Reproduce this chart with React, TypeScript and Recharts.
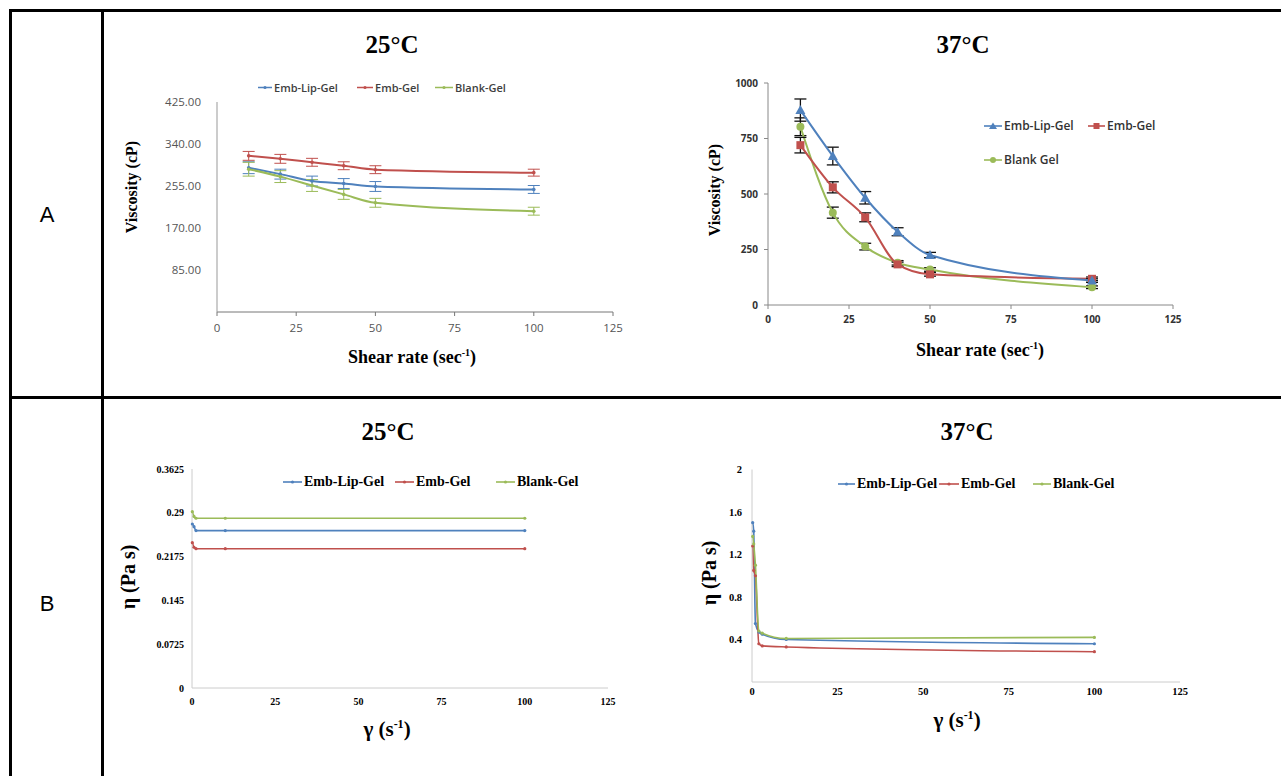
import React from 'react';
import { LineChart, Line, XAxis, YAxis, ErrorBar } from 'recharts';

// ---------- colours ----------
const BLUE = '#4F81BD';
const RED = '#C0504D';
const GREEN = '#9BBB59';

// ---------- Panel A data (shear rate, sec^-1) ----------
const shearRate = [10, 20, 30, 40, 50, 100];
const shearTicks = [0, 25, 50, 75, 100, 125];

// A – 25°C viscosity (cP)
const a25EmbLipGel = [292, 279, 265, 260, 254, 248];
const a25EmbLipGelErr = [12, 10, 10, 10, 10, 8];
const a25EmbGel = [316, 310, 303, 296, 288, 282];
const a25EmbGelErr = [9, 9, 8, 8, 8, 7];
const a25BlankGel = [289, 274, 256, 238, 221, 204];
const a25BlankGelErr = [14, 12, 12, 10, 9, 8];
const a25Ticks = [85, 170, 255, 340, 425];

// A – 37°C viscosity (cP)
const a37EmbLipGel = [878, 671, 483, 330, 225, 110];
const a37EmbLipGelErr = [50, 40, 28, 18, 12, 8];
const a37EmbGel = [720, 530, 395, 183, 138, 118];
const a37EmbGelErr = [35, 25, 20, 10, 8, 8];
const a37BlankGel = [803, 416, 263, 190, 160, 80];
const a37BlankGelErr = [40, 25, 15, 10, 8, 6];
const a37Ticks = [0, 250, 500, 750, 1000];

// ---------- Panel B data (γ, s^-1 ; η, Pa s) ----------
const b25Gamma = [0.1, 0.6, 1.2, 10, 100];
const b25EmbLipGel = [0.2715, 0.267, 0.2605, 0.2605, 0.2605];
const b25EmbGel = [0.2405, 0.233, 0.2306, 0.2306, 0.2306];
const b25BlankGel = [0.2918, 0.284, 0.281, 0.281, 0.281];
const b25Ticks = [0, 0.0725, 0.145, 0.2175, 0.29, 0.3625];

const b37Gamma = [0.2, 0.5, 1, 2, 3, 10, 100];
const b37EmbLipGel = [1.5, 1.42, 0.55, 0.47, 0.45, 0.4, 0.36];
const b37EmbGel = [1.28, 1.05, 1.0, 0.36, 0.34, 0.33, 0.285];
const b37BlankGel = [1.37, 1.3, 1.1, 0.48, 0.46, 0.41, 0.42];
const b37Ticks = [0.4, 0.8, 1.2, 1.6, 2];

// ---------- tables ----------
const a25Data = shearRate.map((x, i) => ({
  x,
  lip: a25EmbLipGel[i], lipErr: a25EmbLipGelErr[i],
  emb: a25EmbGel[i], embErr: a25EmbGelErr[i],
  blank: a25BlankGel[i], blankErr: a25BlankGelErr[i],
}));
const a37Data = shearRate.map((x, i) => ({
  x,
  lip: a37EmbLipGel[i], lipErr: a37EmbLipGelErr[i],
  emb: a37EmbGel[i], embErr: a37EmbGelErr[i],
  blank: a37BlankGel[i], blankErr: a37BlankGelErr[i],
}));
const b25Data = b25Gamma.map((x, i) => ({
  x, lip: b25EmbLipGel[i], emb: b25EmbGel[i], blank: b25BlankGel[i],
}));
const b37Data = b37Gamma.map((x, i) => ({
  x, lip: b37EmbLipGel[i], emb: b37EmbGel[i], blank: b37BlankGel[i],
}));

// ---------- layout helpers ----------
type Box = { x: number; y: number; w: number; h: number };
type Plot = { x0: number; y0: number; x1: number; y1: number };
const YW = 60;
const XH = 30;
function marginsFor(box: Box, plot: Plot) {
  return {
    left: plot.x0 - box.x - YW,
    top: plot.y0 - box.y,
    right: box.x + box.w - plot.x1,
    bottom: box.y + box.h - plot.y1 - XH,
  };
}

const SERIF = '"Liberation Serif", "DejaVu Serif", serif';
const SANS = '"Open Sans", "Noto Sans", sans-serif';

function CenterText(props: { x: number; y: number; size: number; children: React.ReactNode; rotate?: boolean; family?: string; weight?: number | string; color?: string }) {
  const { x, y, size, children, rotate, family, weight, color } = props;
  return (
    <div
      style={{
        position: 'absolute', left: x, top: y, whiteSpace: 'nowrap',
        transform: `translate(-50%, -50%)${rotate ? ' rotate(-90deg)' : ''}`,
        fontFamily: family || SERIF, fontWeight: weight ?? 700, fontSize: size,
        color: color || '#000', lineHeight: 1,
      }}
    >
      {children}
    </div>
  );
}

type LegendItem = { x: number; y: number; label: string; color: string; marker: 'dot' | 'tri' | 'sq' | 'circ'; len: number };
function LegendBlock(props: { items: LegendItem[]; size: number; family: string; weight: number; color: string }) {
  return (
    <>
      {props.items.map((it) => (
        <div key={it.label} style={{ position: 'absolute', left: it.x, top: it.y, transform: 'translateY(-50%)', display: 'flex', alignItems: 'center', whiteSpace: 'nowrap' }}>
          <svg width={it.len} height={10} style={{ display: 'block' }}>
            <line x1={0} y1={5} x2={it.len} y2={5} stroke={it.color} strokeWidth={1.6} />
            {it.marker === 'dot' && <circle cx={it.len / 2} cy={5} r={1.6} fill={it.color} />}
            {it.marker === 'tri' && <polygon points={`${it.len / 2},1.5 ${it.len / 2 + 4},8 ${it.len / 2 - 4},8`} fill={it.color} />}
            {it.marker === 'sq' && <rect x={it.len / 2 - 3} y={2} width={6} height={6} fill={it.color} />}
            {it.marker === 'circ' && <circle cx={it.len / 2} cy={5} r={3} fill={it.color} />}
          </svg>
          <span style={{ fontFamily: props.family, fontWeight: props.weight, fontSize: props.size, color: props.color, marginLeft: 2, lineHeight: 1 }}>{it.label}</span>
        </div>
      ))}
    </>
  );
}

// custom marker shapes
const triDot = (color: string) => (p: any) => (
  <polygon key={`t${p.index}`} points={`${p.cx},${p.cy - 5} ${p.cx + 5},${p.cy + 4} ${p.cx - 5},${p.cy + 4}`} fill={color} />
);
const sqDot = (color: string) => (p: any) => (
  <rect key={`s${p.index}`} x={p.cx - 4} y={p.cy - 4} width={8} height={8} fill={color} />
);
const circDot = (color: string) => (p: any) => (
  <circle key={`c${p.index}`} cx={p.cx} cy={p.cy} r={4} fill={color} />
);
const smallDot = (color: string, r = 1.8) => (p: any) => (
  <circle key={`d${p.index}`} cx={p.cx} cy={p.cy} r={r} fill={color} />
);

// ---------- boxes ----------
const A25Box: Box = { x: 110, y: 60, w: 540, h: 300 };
const A25Plot: Plot = { x0: 217, y0: 102, x1: 613, y1: 312 };
const A37Box: Box = { x: 690, y: 60, w: 520, h: 290 };
const A37Plot: Plot = { x0: 768, y0: 83, x1: 1173, y1: 305 };
const B25Box: Box = { x: 130, y: 440, w: 520, h: 290 };
const B25Plot: Plot = { x0: 192, y0: 469, x1: 608, y1: 688 };
const B37Box: Box = { x: 690, y: 440, w: 530, h: 280 };
const B37Plot: Plot = { x0: 752, y0: 469.5, x1: 1180, y1: 682 };

function ChartA25() {
  const tick = { fontSize: 11.5, fill: '#555', fontFamily: SANS };
  return (
    <div style={{ position: 'absolute', left: A25Box.x, top: A25Box.y }}>
      <LineChart width={A25Box.w} height={A25Box.h} data={a25Data} margin={marginsFor(A25Box, A25Plot)}>
        <XAxis type="number" dataKey="x" domain={[0, 125]} ticks={shearTicks} height={XH}
          stroke="#777" tick={tick} tickSize={4} tickMargin={8} />
        <YAxis type="number" domain={[0, 425]} ticks={a25Ticks} width={YW} stroke="#999"
          tick={tick} tickLine={false} tickSize={6} tickMargin={10}
          tickFormatter={(v: number) => v.toFixed(2)} />
        <Line dataKey="lip" stroke={BLUE} strokeWidth={2} type="monotone" isAnimationActive={false} dot={smallDot(BLUE)}>
          <ErrorBar dataKey="lipErr" width={6} stroke={BLUE} strokeWidth={1} />
        </Line>
        <Line dataKey="emb" stroke={RED} strokeWidth={2} type="monotone" isAnimationActive={false} dot={smallDot(RED)}>
          <ErrorBar dataKey="embErr" width={6} stroke={RED} strokeWidth={1} />
        </Line>
        <Line dataKey="blank" stroke={GREEN} strokeWidth={2} type="monotone" isAnimationActive={false} dot={smallDot(GREEN)}>
          <ErrorBar dataKey="blankErr" width={6} stroke={GREEN} strokeWidth={1} />
        </Line>
      </LineChart>
    </div>
  );
}

function ChartA37() {
  const tick = { fontSize: 10, fill: '#333', fontFamily: SANS, fontWeight: 700 };
  return (
    <div style={{ position: 'absolute', left: A37Box.x, top: A37Box.y }}>
      <LineChart width={A37Box.w} height={A37Box.h} data={a37Data} margin={marginsFor(A37Box, A37Plot)}>
        <XAxis type="number" dataKey="x" domain={[0, 125]} ticks={shearTicks} height={XH}
          stroke="#888" tick={tick} tickSize={4} tickMargin={7} />
        <YAxis type="number" domain={[0, 1000]} ticks={a37Ticks} width={YW} stroke="#888"
          tick={tick} tickSize={4} tickMargin={6} />
        <Line dataKey="blank" stroke={GREEN} strokeWidth={2} type="monotone" isAnimationActive={false} dot={circDot(GREEN)}>
          <ErrorBar dataKey="blankErr" width={6} stroke="#111" strokeWidth={1.3} />
        </Line>
        <Line dataKey="emb" stroke={RED} strokeWidth={2} type="monotone" isAnimationActive={false} dot={sqDot(RED)}>
          <ErrorBar dataKey="embErr" width={6} stroke="#111" strokeWidth={1.3} />
        </Line>
        <Line dataKey="lip" stroke={BLUE} strokeWidth={2} type="monotone" isAnimationActive={false} dot={triDot(BLUE)}>
          <ErrorBar dataKey="lipErr" width={6} stroke="#111" strokeWidth={1.3} />
        </Line>
      </LineChart>
    </div>
  );
}

function ChartB25() {
  const tick = { fontSize: 10, fill: '#000', fontFamily: SERIF, fontWeight: 700 };
  return (
    <div style={{ position: 'absolute', left: B25Box.x, top: B25Box.y }}>
      <LineChart width={B25Box.w} height={B25Box.h} data={b25Data} margin={marginsFor(B25Box, B25Plot)}>
        <XAxis type="number" dataKey="x" domain={[0, 125]} ticks={shearTicks} height={XH}
          stroke="#ccc" tick={tick} tickLine={false} tickSize={4} tickMargin={6} />
        <YAxis type="number" domain={[0, 0.3625]} ticks={b25Ticks} width={YW} stroke="#ccc"
          tick={tick} tickLine={false} tickSize={4} tickMargin={4} />
        <Line dataKey="lip" stroke={BLUE} strokeWidth={1.6} type="monotone" isAnimationActive={false} dot={smallDot(BLUE, 1.6)} />
        <Line dataKey="emb" stroke={RED} strokeWidth={1.6} type="monotone" isAnimationActive={false} dot={smallDot(RED, 1.6)} />
        <Line dataKey="blank" stroke={GREEN} strokeWidth={1.6} type="monotone" isAnimationActive={false} dot={smallDot(GREEN, 1.6)} />
      </LineChart>
    </div>
  );
}

function ChartB37() {
  const tick = { fontSize: 10.5, fill: '#000', fontFamily: SERIF, fontWeight: 700 };
  return (
    <div style={{ position: 'absolute', left: B37Box.x, top: B37Box.y }}>
      <LineChart width={B37Box.w} height={B37Box.h} data={b37Data} margin={marginsFor(B37Box, B37Plot)}>
        <XAxis type="number" dataKey="x" domain={[0, 125]} ticks={shearTicks} height={XH}
          stroke="#ccc" tick={tick} tickLine={false} tickSize={2} tickMargin={4} />
        <YAxis type="number" domain={[0, 2]} ticks={b37Ticks} width={YW} stroke="#ccc"
          tick={tick} tickLine={false} tickSize={4} tickMargin={6} />
        <Line dataKey="lip" stroke={BLUE} strokeWidth={1.6} type="monotone" isAnimationActive={false} dot={smallDot(BLUE, 1.6)} />
        <Line dataKey="emb" stroke={RED} strokeWidth={1.6} type="monotone" isAnimationActive={false} dot={smallDot(RED, 1.6)} />
        <Line dataKey="blank" stroke={GREEN} strokeWidth={1.6} type="monotone" isAnimationActive={false} dot={smallDot(GREEN, 1.6)} />
      </LineChart>
    </div>
  );
}

const lineStyle = (l: number, t: number, w: number, h: number): React.CSSProperties => ({
  position: 'absolute', left: l, top: t, width: w, height: h, background: '#000',
});

export default function App() {
  return (
    <div style={{ position: 'absolute', left: 0, top: 0, width: 1281, height: 776, background: '#fff', overflow: 'hidden' }}>
      {/* table frame */}
      <div style={lineStyle(9, 9, 1272, 3)} />
      <div style={lineStyle(9, 9, 3, 767)} />
      <div style={lineStyle(101, 9, 3, 767)} />
      <div style={lineStyle(9, 396, 1272, 3)} />

      <CenterText x={47} y={215} size={22} family={'"Liberation Sans", Arial, sans-serif'} weight={400}>A</CenterText>
      <CenterText x={47} y={604} size={22} family={'"Liberation Sans", Arial, sans-serif'} weight={400}>B</CenterText>

      {/* Panel A 25 */}
      <CenterText x={392} y={44} size={25}>25°C</CenterText>
      <ChartA25 />
      <LegendBlock size={11} family={SANS} weight={600} color="#404040" items={[
        { x: 258, y: 87, label: 'Emb-Lip-Gel', color: BLUE, marker: 'dot', len: 14 },
        { x: 357, y: 87, label: 'Emb-Gel', color: RED, marker: 'dot', len: 16 },
        { x: 435, y: 87, label: 'Blank-Gel', color: GREEN, marker: 'dot', len: 18 },
      ]} />
      <CenterText x={132} y={187} size={16} rotate>Viscosity (cP)</CenterText>
      <CenterText x={412} y={357} size={18}>Shear rate (sec<sup style={{ fontSize: 10 }}>-1</sup>)</CenterText>

      {/* Panel A 37 */}
      <CenterText x={963} y={44} size={25}>37°C</CenterText>
      <ChartA37 />
      <LegendBlock size={12} family={SANS} weight={600} color="#333" items={[
        { x: 984, y: 126, label: 'Emb-Lip-Gel', color: BLUE, marker: 'tri', len: 18 },
        { x: 1088, y: 126, label: 'Emb-Gel', color: RED, marker: 'sq', len: 17 },
        { x: 984, y: 160, label: 'Blank Gel', color: GREEN, marker: 'circ', len: 18 },
      ]} />
      <CenterText x={715} y={190} size={16} rotate>Viscosity (cP)</CenterText>
      <CenterText x={980} y={350} size={18}>Shear rate (sec<sup style={{ fontSize: 10 }}>-1</sup>)</CenterText>

      {/* Panel B 25 */}
      <CenterText x={388} y={431} size={25}>25°C</CenterText>
      <ChartB25 />
      <LegendBlock size={14} family={SERIF} weight={700} color="#000" items={[
        { x: 283, y: 482, label: 'Emb-Lip-Gel', color: BLUE, marker: 'dot', len: 19 },
        { x: 395, y: 482, label: 'Emb-Gel', color: RED, marker: 'dot', len: 19 },
        { x: 496, y: 482, label: 'Blank-Gel', color: GREEN, marker: 'dot', len: 19 },
      ]} />
      <CenterText x={128} y={577} size={20} rotate>η (Pa s)</CenterText>
      <CenterText x={387} y={729} size={21}>γ (s<sup style={{ fontSize: 12 }}>-1</sup>)</CenterText>

      {/* Panel B 37 */}
      <CenterText x={967} y={431} size={25}>37°C</CenterText>
      <ChartB37 />
      <LegendBlock size={14} family={SERIF} weight={700} color="#000" items={[
        { x: 838, y: 484, label: 'Emb-Lip-Gel', color: BLUE, marker: 'dot', len: 17 },
        { x: 939, y: 484, label: 'Emb-Gel', color: RED, marker: 'dot', len: 20 },
        { x: 1033, y: 484, label: 'Blank-Gel', color: GREEN, marker: 'dot', len: 18 },
      ]} />
      <CenterText x={709} y={573} size={20} rotate>η (Pa s)</CenterText>
      <CenterText x={957} y={720} size={21}>γ (s<sup style={{ fontSize: 12 }}>-1</sup>)</CenterText>
    </div>
  );
}
